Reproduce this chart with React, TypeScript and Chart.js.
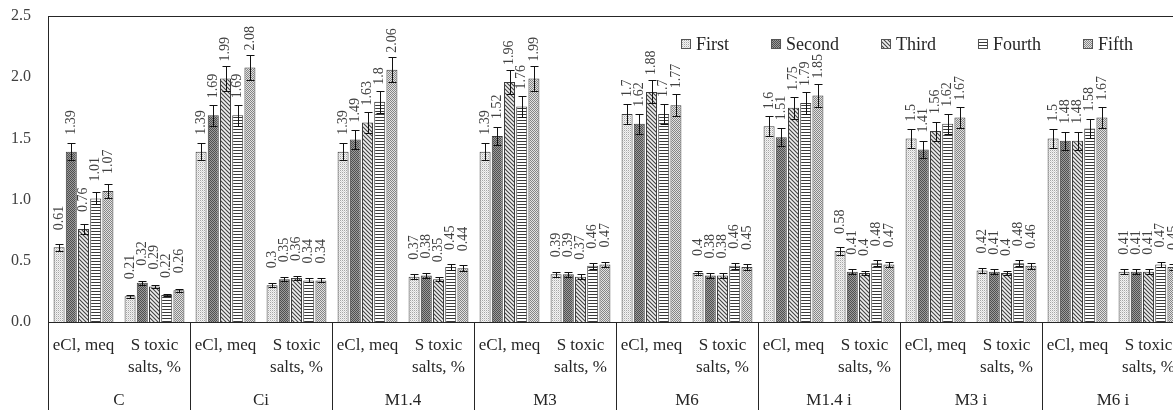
import React, { useEffect, useRef } from "react";
import { Chart, registerables } from "chart.js";

Chart.register(...registerables);

const groups = ["C", "Ci", "M1.4", "M3", "M6", "M1.4 i", "M3 i", "M6 i"];
const subLabels = [["eCl, meq"], ["S toxic", "salts, %"]];
const seriesNames = ["First", "Second", "Third", "Fourth", "Fifth"];

// values per category: [eCl, S] for each group
const first = [0.61, 0.21, 1.39, 0.3, 1.39, 0.37, 1.39, 0.39, 1.7, 0.4, 1.6, 0.58, 1.5, 0.42, 1.5, 0.41];
const second = [1.39, 0.32, 1.69, 0.35, 1.49, 0.38, 1.52, 0.39, 1.62, 0.38, 1.51, 0.41, 1.41, 0.41, 1.48, 0.41];
const third = [0.76, 0.29, 1.99, 0.36, 1.63, 0.35, 1.96, 0.37, 1.88, 0.38, 1.75, 0.4, 1.56, 0.4, 1.48, 0.41];
const fourth = [1.01, 0.22, 1.69, 0.34, 1.8, 0.45, 1.76, 0.46, 1.7, 0.46, 1.79, 0.48, 1.62, 0.48, 1.58, 0.47];
const fifth = [1.07, 0.26, 2.08, 0.34, 2.06, 0.44, 1.99, 0.47, 1.77, 0.45, 1.85, 0.47, 1.67, 0.46, 1.67, 0.45];

// error bar half-lengths
const firstErr = [0.03, 0.011, 0.07, 0.015, 0.07, 0.019, 0.07, 0.02, 0.085, 0.02, 0.08, 0.029, 0.075, 0.021, 0.075, 0.021];
const secondErr = [0.07, 0.016, 0.085, 0.018, 0.075, 0.019, 0.076, 0.02, 0.081, 0.019, 0.076, 0.021, 0.07, 0.021, 0.074, 0.021];
const thirdErr = [0.038, 0.015, 0.1, 0.018, 0.082, 0.018, 0.098, 0.019, 0.094, 0.019, 0.088, 0.02, 0.078, 0.02, 0.074, 0.021];
const fourthErr = [0.05, 0.011, 0.085, 0.017, 0.09, 0.023, 0.088, 0.023, 0.085, 0.023, 0.09, 0.024, 0.081, 0.024, 0.079, 0.024];
const fifthErr = [0.054, 0.013, 0.104, 0.017, 0.103, 0.022, 0.1, 0.024, 0.089, 0.023, 0.093, 0.024, 0.084, 0.023, 0.084, 0.023];

const yTicks = [0, 0.5, 1.0, 1.5, 2.0, 2.5];

const seriesValues = [first, second, third, fourth, fifth];
const seriesErrors = [firstErr, secondErr, thirdErr, fourthErr, fifthErr];

const FONT = "'Liberation Serif', 'Times New Roman', serif";
const AXIS = "#262626";
const TEXT = "#404040";

function makePattern(kind: number): CanvasPattern | string {
  const c = document.createElement("canvas");
  const s = kind === 3 ? 3 : 4;
  c.width = s;
  c.height = s;
  const g = c.getContext("2d")!;
  g.fillStyle = "#ffffff";
  g.fillRect(0, 0, s, s);
  const px = (x: number, y: number, col: string) => {
    g.fillStyle = col;
    g.fillRect(x, y, 1, 1);
  };
  for (let y = 0; y < s; y++) {
    for (let x = 0; x < s; x++) {
      if (kind === 0) {
        px(x, y, (x + y) % 2 === 0 ? (x % 2 === 0 ? "#a6a6a6" : "#d6d6d6") : "#f4f4f4");
      } else if (kind === 1) {
        px(x, y, (x + y) % 2 === 0 ? "#4f4f4f" : "#9c9c9c");
      } else if (kind === 2) {
        px(x, y, x === y ? "#4a4a4a" : (x - y + 4) % 4 === 2 ? "#f0f0f0" : "#bdbdbd");
      } else if (kind === 3) {
        px(x, y, y === 0 ? "#3a3a3a" : "#ffffff");
      } else {
        px(x, y, (x + y) % 2 === 0 ? "#858585" : "#e2e2e2");
      }
    }
  }
  const p = g.createPattern(c, "repeat");
  return p || "#ccc";
}

export default function App() {
  const ref = useRef<HTMLCanvasElement | null>(null);

  useEffect(() => {
    if (!ref.current) return;
    const patterns = seriesNames.map((_, i) => makePattern(i));
    const labels: string[][] = [];
    groups.forEach(() => subLabels.forEach((l) => labels.push(l)));

    const decor = {
      id: "decor",
      afterDatasetsDraw(chart: any) {
        const ctx = chart.ctx as CanvasRenderingContext2D;
        const ys = chart.scales.y;
        chart.data.datasets.forEach((ds: any, di: number) => {
          const meta = chart.getDatasetMeta(di);
          meta.data.forEach((bar: any, i: number) => {
            const v = ds.data[i] as number;
            const e = seriesErrors[di][i];
            const x = Math.round(bar.x) + 0.5;
            const yt = Math.round(ys.getPixelForValue(v + e)) + 0.5;
            const yb = Math.round(ys.getPixelForValue(v - e)) + 0.5;
            ctx.save();
            ctx.strokeStyle = "#111";
            ctx.lineWidth = 1;
            ctx.beginPath();
            ctx.moveTo(x, yt);
            ctx.lineTo(x, yb);
            ctx.moveTo(x - 4, yt);
            ctx.lineTo(x + 4, yt);
            ctx.moveTo(x - 4, yb);
            ctx.lineTo(x + 4, yb);
            ctx.stroke();
            // value label
            ctx.translate(bar.x, bar.y - 17);
            ctx.rotate(-Math.PI / 2);
            ctx.font = `14px ${FONT}`;
            ctx.fillStyle = TEXT;
            ctx.textAlign = "left";
            ctx.textBaseline = "middle";
            ctx.fillText(String(v), 0, 0);
            ctx.restore();
          });
        });
      },
      afterDraw(chart: any) {
        const ctx = chart.ctx as CanvasRenderingContext2D;
        const area = chart.chartArea;
        const xs = chart.scales.x;
        const H = chart.height;
        ctx.save();
        ctx.strokeStyle = AXIS;
        ctx.lineWidth = 1;
        // top border
        ctx.beginPath();
        ctx.moveTo(area.left, Math.round(area.top) + 0.5);
        ctx.lineTo(area.right, Math.round(area.top) + 0.5);
        // left axis extension and group separators
        ctx.moveTo(Math.round(area.left) + 0.5, area.bottom);
        ctx.lineTo(Math.round(area.left) + 0.5, H);
        for (let k = 1; k < groups.length; k++) {
          const bx = (xs.getPixelForValue(2 * k - 1) + xs.getPixelForValue(2 * k)) / 2;
          ctx.moveTo(Math.round(bx) + 0.5, area.bottom);
          ctx.lineTo(Math.round(bx) + 0.5, H);
        }
        ctx.stroke();
        // group labels
        ctx.font = `17px ${FONT}`;
        ctx.fillStyle = AXIS;
        ctx.textAlign = "center";
        ctx.textBaseline = "middle";
        groups.forEach((g, k) => {
          const cx = (xs.getPixelForValue(2 * k) + xs.getPixelForValue(2 * k + 1)) / 2;
          ctx.fillText(g, cx, area.bottom + 79);
        });
        // legend
        ctx.font = `18px ${FONT}`;
        let lx = area.left + 633;
        const ly = area.top + 28;
        ctx.textAlign = "left";
        seriesNames.forEach((name, i) => {
          ctx.fillStyle = patterns[i] as any;
          ctx.fillRect(lx, ly - 5, 10, 10);
          ctx.strokeStyle = "#555";
          ctx.strokeRect(lx + 0.5, ly - 4.5, 9, 9);
          ctx.fillStyle = AXIS;
          ctx.fillText(name, lx + 15, ly + 1);
          lx += 15 + ctx.measureText(name).width + 42;
        });
        ctx.restore();
      },
    };

    const chart = new Chart(ref.current, {
      type: "bar",
      data: {
        labels,
        datasets: seriesNames.map((name, i) => ({
          label: name,
          data: seriesValues[i],
          backgroundColor: patterns[i] as any,
          borderColor: "#3c3c3c",
          borderWidth: 1,
          categoryPercentage: 0.86,
          barPercentage: 0.9,
        })),
      },
      options: {
        responsive: false,
        maintainAspectRatio: false,
        animation: false,
        layout: { padding: { top: 16, right: 6, left: 0, bottom: 0 } },
        plugins: {
          legend: { display: false },
          tooltip: { enabled: false },
        },
        scales: {
          x: {
            type: "category",
            grid: { display: false, drawTicks: false },
            border: { display: true, color: AXIS, width: 1 },
            ticks: {
              color: AXIS,
              font: { family: FONT, size: 17, lineHeight: 1.3 },
              padding: 12,
              maxRotation: 0,
              minRotation: 0,
              autoSkip: false,
            },
            afterFit: (s: any) => {
              s.height = 88;
            },
          },
          y: {
            min: 0,
            max: 2.5,
            afterBuildTicks: (s: any) => {
              s.ticks = yTicks.map((v) => ({ value: v }));
            },
            ticks: {
              color: TEXT,
              font: { family: FONT, size: 16 },
              padding: 17,
              callback: (v: any) => Number(v).toFixed(1),
            },
            grid: { display: false, drawTicks: false },
            border: { display: true, color: AXIS, width: 1 },
            afterFit: (s: any) => {
              s.width = 48;
              s.paddingTop = 0;
              s.paddingBottom = 0;
            },
          },
        },
      },
      plugins: [decor],
    });
    return () => chart.destroy();
  }, []);

  return (
    <div
      style={{
        position: "fixed",
        left: 0,
        top: 0,
        width: 1173,
        height: 410,
        overflow: "hidden",
        background: "#fff",
      }}
    >
      <canvas ref={ref} width={1190} height={410} style={{ width: 1190, height: 410, display: "block" }} />
    </div>
  );
}
